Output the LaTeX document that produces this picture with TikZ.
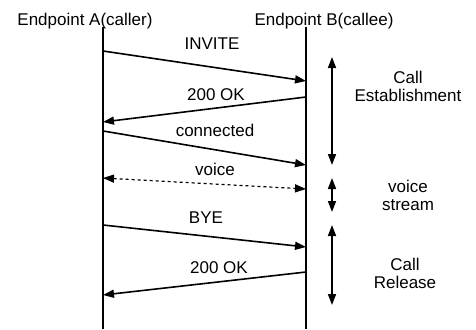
\documentclass[tikz,border=0pt]{standalone}
\usepackage{fontspec}
\setmainfont{Liberation Sans}
\usetikzlibrary{arrows.meta}
\begin{document}
\begin{tikzpicture}[x=1pt, y=-1pt, line width=1.6pt,
    msg/.style={-{Triangle[length=11pt,width=8pt]}},
    span/.style={{Triangle[length=11pt,width=8pt]}-{Triangle[length=11pt,width=8pt]}},
    lbl/.style={anchor=base, inner sep=0pt, font=\fontsize{17}{19}\selectfont},
    phase/.style={align=center, inner sep=0pt, font=\fontsize{17}{18}\selectfont}]
    \useasboundingbox (0,0) rectangle (476,329);

    % endpoints and lifelines
    \node (hdrA) [lbl] at (85,26) {Endpoint A(caller)};
    \node (hdrB) [lbl] at (324,26) {Endpoint B(callee)};
    \coordinate (topA) at (103,27);
    \coordinate (botA) at (103,329);
    \coordinate (topB) at (306,27);
    \coordinate (botB) at (306,329);
    \draw (topA) -- (botA);
    \draw (topB) -- (botB);

    % messages
    \coordinate (inviteA) at (103,51);
    \coordinate (inviteB) at (306,81);
    \draw[msg] (inviteA) -- (inviteB);
    \node (invite) [lbl] at (212,50) {INVITE};

    \coordinate (okB) at (306,97);
    \coordinate (okA) at (103,122);
    \draw[msg] (okB) -- (okA);
    \node (ok) [lbl] at (216,100) {200 OK};

    \coordinate (connA) at (103,131);
    \coordinate (connB) at (306,165);
    \draw[msg] (connA) -- (connB);
    \node (conn) [lbl] at (215,136) {connected};

    \coordinate (voiceA) at (103,178);
    \coordinate (voiceB) at (306,189);
    \draw[span, dashed, line width=1.2pt] (voiceA) -- (voiceB);
    \node (voice) [lbl] at (215,175) {voice};

    \coordinate (byeA) at (103,225);
    \coordinate (byeB) at (306,247);
    \draw[msg] (byeA) -- (byeB);
    \node (bye) [lbl] at (206,223) {BYE};

    \coordinate (relB) at (306,272);
    \coordinate (relA) at (103,295);
    \draw[msg] (relB) -- (relA);
    \node (rel) [lbl] at (219,273) {200 OK};

    % phases
    \coordinate (estTop) at (332,57);
    \coordinate (estBot) at (332,165);
    \draw[span] (estTop) -- (estBot);
    \node (est) [phase] at (408,86) {Call\\Establishment};

    \coordinate (strTop) at (332,178);
    \coordinate (strBot) at (332,212);
    \draw[span] (strTop) -- (strBot);
    \node (str) [phase] at (408,195) {voice\\stream};

    \coordinate (endTop) at (332,225);
    \coordinate (endBot) at (332,305);
    \draw[span] (endTop) -- (endBot);
    \node (end) [phase] at (405,273) {Call\\Release};
\end{tikzpicture}
\end{document}
